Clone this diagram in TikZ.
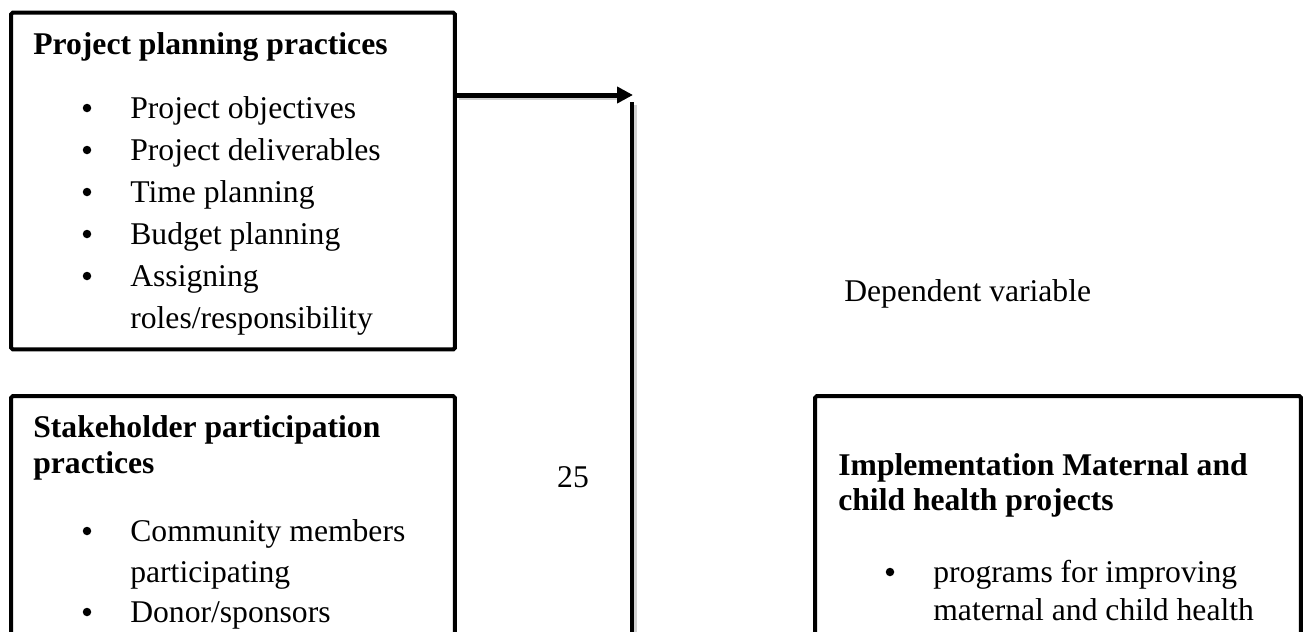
\documentclass[tikz,border=0pt]{standalone}
\usepackage{fontspec}
\setmainfont{Liberation Serif}
\usetikzlibrary{arrows.meta}

\begin{document}
\begin{tikzpicture}[
  x=0.02cm, y=-0.02cm,
  box/.style={draw=black, line width=0.08cm, rounded corners=1pt, inner sep=0pt},
  txt/.style={font=\fontsize{18}{21}\selectfont, anchor=base west, inner sep=0pt},
  head/.style={txt, font=\fontsize{18}{21}\selectfont\bfseries},
  bul/.style={circle, fill=black, inner sep=0pt, minimum size=0.17cm},
  bar/.style={line width=0.08cm},
  barshade/.style={line width=0.1cm, black!18, transform canvas={shift={(0.05cm,-0.05cm)}}},
  arr/.style={-{Triangle[length=0.32cm, width=0.32cm]}, line width=0.1cm}
]
\useasboundingbox (0,0) rectangle (1305,632);
\clip (0,0) rectangle (1305,632);

% boxes
\node[box, minimum width=8.88cm, minimum height=6.74cm] (plan)  at (233,181)  {};
\node[box, minimum width=8.88cm, minimum height=6.08cm] (stake) at (233,548)  {};
\node[box, minimum width=9.72cm, minimum height=6.08cm] (impl)  at (1058,548) {};

% planning practices
\node[head] (planhead) at (33,54) {Project planning practices};
\foreach \y/\lbl [count=\i] in {118/Project objectives, 160/Project deliverables,
    202/Time planning, 244/Budget planning, 286/Assigning} {
  \node[bul] (plandot\i) at (87,\y-10) {};
  \node[txt] (planitem\i) at (130,\y) {\lbl};
}
\node[txt] (planitem6) at (130,328) {roles/responsibility};

% stakeholder practices
\node[head] (stakehead1) at (33,437) {Stakeholder participation};
\node[head] (stakehead2) at (33,473) {practices};
\node[bul] (stakedot1) at (87,531) {};
\node[txt] (stakeitem1) at (130,541) {Community members};
\node[txt] (stakeitem2) at (130,582) {participating};
\node[bul] (stakedot2) at (87,612) {};
\node[txt] (stakeitem3) at (130,622) {Donor/sponsors};

% dependent variable
\node[txt] (deplabel) at (844,301) {Dependent variable};
\node[head] (implhead1) at (838,475) {Implementation Maternal and};
\node[head] (implhead2) at (838,510) {child health projects};
\node[bul] (impldot1) at (890,572) {};
\node[txt] (implitem1) at (933,582) {programs for improving};
\node[txt] (implitem2) at (933,620) {maternal and child health};

\node[txt, anchor=base] (pagenum) at (573,487) {25};

% connector
\coordinate (tip) at (633,95);
\coordinate (bartop) at (632,102);
\coordinate (barbot) at (632,640);
\draw[barshade] (plan.east |- tip) -- ([xshift=-0.3cm]tip);
\draw[barshade] (bartop) -- (barbot);
\draw[arr] (plan.east |- tip) -- (tip);
\draw[bar] (bartop) -- (barbot);
\end{tikzpicture}
\end{document}
